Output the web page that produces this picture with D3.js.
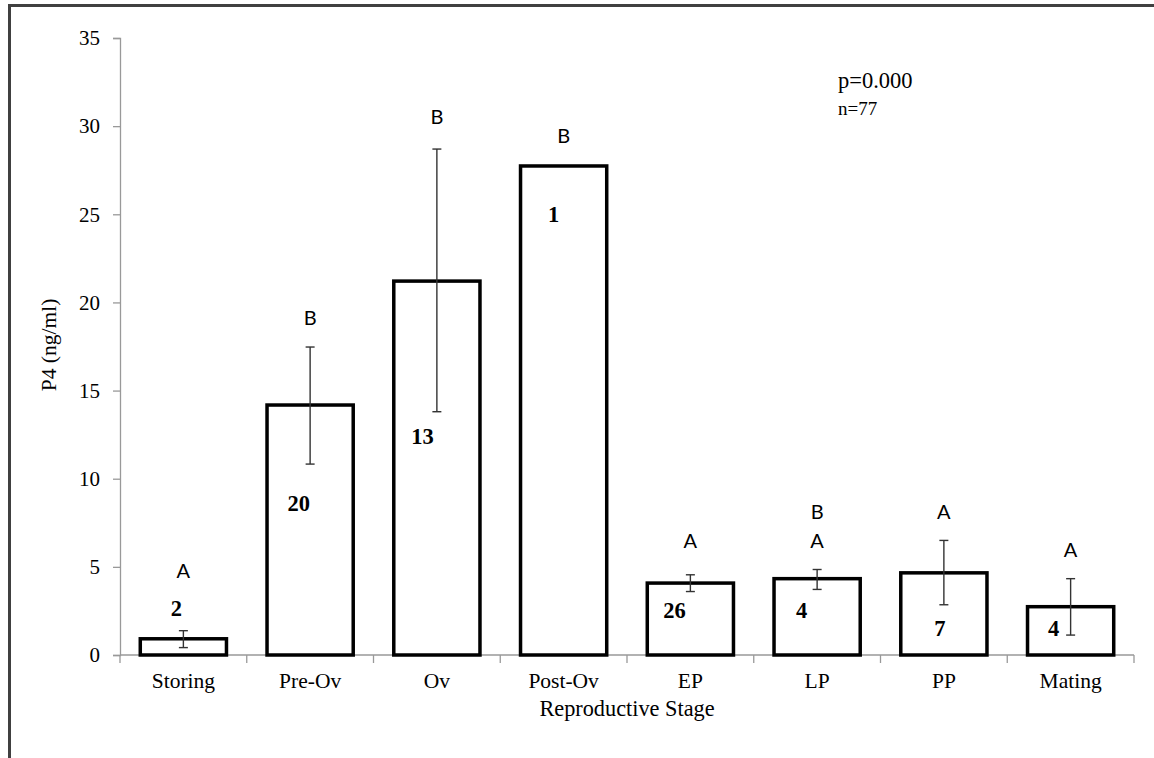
<!DOCTYPE html>
<html><head><meta charset="utf-8">
<script src="https://cdn.jsdelivr.net/npm/d3@7"></script>
<style>body{margin:0;background:#fff}svg{display:block}</style>
</head><body>
<script>
const categories = ["Storing","Pre-Ov","Ov","Post-Ov","EP","LP","PP","Mating"];
const means = [0.92, 14.18, 21.21, 27.74, 4.08, 4.33, 4.66, 2.74];
const errLow = [0.42, 10.83, 13.8, null, 3.6, 3.72, 2.85, 1.13];
const errHigh = [1.38, 17.47, 28.7, null, 4.55, 4.85, 6.5, 4.33];
const nLabels = ["2","20","13","1","26","4","7","4"];
const nLabelY = [2.65, 8.6, 12.4, 25.0, 2.55, 2.55, 1.53, 1.53];
const sigLetters = [["A"],["B"],["B"],["B"],["A"],["A","B"],["A"],["A"]];
const sigLetterY = [4.8, 19.1, 30.55, 29.45, 6.45, 6.45, 8.1, 5.95];
const yTicks = [0,5,10,15,20,25,30,35];
const yTitle = "P4 (ng/ml)";
const xTitle = "Reproductive Stage";
const statLines = ["p=0.000","n=77"];

(function(){
const W=1154,H=758;
const svg=d3.select("body").append("svg").attr("width",W).attr("height",H);
const mL=120,mR=1134,mT=38,mB=655;
const x=d3.scaleBand().domain(categories).range([mL,mR]).paddingInner(0.32).paddingOuter(0.16);
const y=d3.scaleLinear().domain([0,35]).range([mB,mT]);
// manual horizontal nudges of the count labels (px, relative to bar centre)
const nDx=[-7,-11.5,-14.5,-10,-16,-15.5,-4,-17];

// frame
svg.append("path").attr("d",`M9.5,${H+5} L9.5,5.5 L${W+5},5.5`).attr("fill","none").attr("stroke","#404040").attr("stroke-width",3);

const serif="'Liberation Serif','Times New Roman',serif";
const sans="Lato,Carlito,'Liberation Sans',Arial,sans-serif";

// y axis
const ya=svg.append("g").attr("transform",`translate(${mL},0)`).call(d3.axisLeft(y).tickValues(yTicks).tickSize(7).tickPadding(13));
ya.select(".domain").attr("stroke","#999").attr("stroke-width",1.3);
ya.selectAll(".tick line").attr("stroke","#999").attr("stroke-width",1.3);
ya.selectAll("text").attr("font-family",serif).attr("font-size",21).attr("fill","#000");

// x axis
const xa=svg.append("g").attr("transform",`translate(0,${mB})`).call(d3.axisBottom(x).tickSize(0).tickPadding(18));
xa.select(".domain").attr("stroke","#999").attr("stroke-width",1.3).attr("d",`M${mL},0H${mR}`);
xa.selectAll("text").attr("font-family",serif).attr("font-size",21.5).attr("fill","#000");
const edges=d3.range(categories.length+1).map(i=>mL+i*(mR-mL)/categories.length);
xa.selectAll(".edge").data(edges).join("line").attr("x1",d=>d).attr("x2",d=>d).attr("y1",0).attr("y2",8).attr("stroke","#999").attr("stroke-width",1.3);

// bars
svg.selectAll(".bar").data(categories).join("rect")
 .attr("x",d=>x(d)).attr("width",x.bandwidth())
 .attr("y",(d,i)=>y(means[i])).attr("height",(d,i)=>y(0)-y(means[i]))
 .attr("fill","#fff").attr("stroke","#000").attr("stroke-width",3.5);

// error bars
categories.forEach((c,i)=>{
  if(errLow[i]==null) return;
  const cx=x(c)+x.bandwidth()/2;
  const g=svg.append("g").attr("stroke","#333").attr("stroke-width",1.4);
  g.append("line").attr("x1",cx).attr("x2",cx).attr("y1",y(errLow[i])).attr("y2",y(errHigh[i]));
  [errLow[i],errHigh[i]].forEach(v=>g.append("line").attr("x1",cx-4.5).attr("x2",cx+4.5).attr("y1",y(v)).attr("y2",y(v)));
});

// n labels
svg.selectAll(".nl").data(categories).join("text")
 .attr("x",(d,i)=>x(d)+x.bandwidth()/2+nDx[i])
 .attr("y",(d,i)=>y(nLabelY[i])).attr("dy","0.35em").attr("text-anchor","middle")
 .attr("font-family",serif).attr("font-weight","bold").attr("font-size",22.5).text((d,i)=>nLabels[i]);

// significance letters
categories.forEach((c,i)=>{
  sigLetters[i].forEach((L,j)=>{
    svg.append("text").attr("x",x(c)+x.bandwidth()/2).attr("y",y(sigLetterY[i])-j*29.5).attr("dy","0.36em")
     .attr("text-anchor","middle").attr("font-family",sans).attr("font-size",20).text(L);
  });
});

// titles
svg.append("text").attr("transform",`translate(56,345) rotate(-90)`).attr("text-anchor","middle")
 .attr("font-family",serif).attr("font-size",21.5).text(yTitle);
svg.append("text").attr("x",(mL+mR)/2).attr("y",716).attr("text-anchor","middle")
 .attr("font-family",serif).attr("font-size",22.3).text(xTitle);

svg.append("text").attr("x",838).attr("y",88).attr("font-family",serif).attr("font-size",22.5).text(statLines[0]);
svg.append("text").attr("x",838).attr("y",115).attr("font-family",serif).attr("font-size",19).text(statLines[1]);
})();
</script>
</body></html>
